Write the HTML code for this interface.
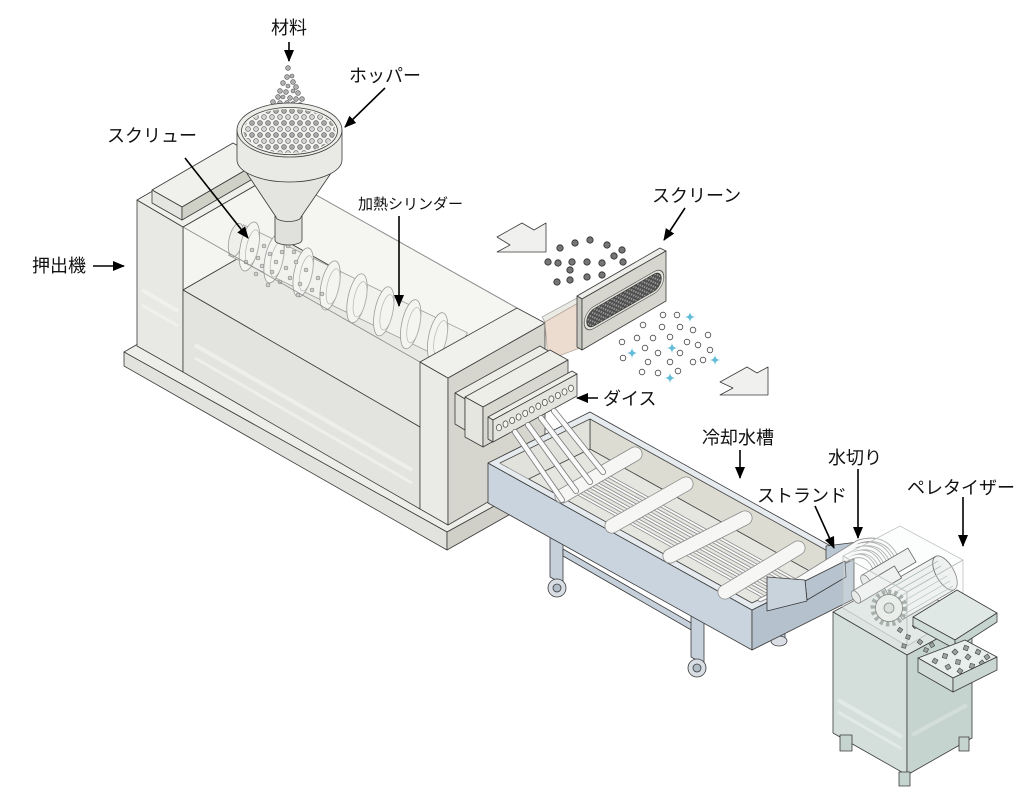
<!DOCTYPE html>
<html><head><meta charset="utf-8"><title>押出機</title>
<style>
html,body{margin:0;padding:0;background:#fff;width:1024px;height:788px;overflow:hidden}
svg{display:block}
.t{font-family:"Liberation Sans","Noto Sans CJK JP",sans-serif;font-size:18px;fill:#111}
</style></head><body>
<svg width="1024" height="788" viewBox="0 0 1024 788" xmlns="http://www.w3.org/2000/svg">
<defs>
<marker id="ah" markerWidth="12" markerHeight="10" refX="11" refY="5" orient="auto" markerUnits="userSpaceOnUse"><path d="M0,0 L12,5 L0,10 z" fill="#000"/></marker>
<pattern id="pel" width="8" height="12" patternUnits="userSpaceOnUse"><circle cx="4" cy="3" r="2.4" fill="#a8a8a8" stroke="#555" stroke-width="0.6"/><circle cx="0" cy="9" r="2.4" fill="#d4d4d4" stroke="#555" stroke-width="0.6"/><circle cx="8" cy="9" r="2.4" fill="#d4d4d4" stroke="#555" stroke-width="0.6"/></pattern>
<pattern id="mesh" width="5" height="4.4" patternUnits="userSpaceOnUse"><rect width="5" height="4.4" fill="#4e4e4e"/><circle cx="1.25" cy="1.1" r="1" fill="#a0a0a0"/><circle cx="3.75" cy="3.3" r="1" fill="#a0a0a0"/></pattern>
<clipPath id="tankOpen"><polygon points="500,463 590,419 842,559 752,603"/></clipPath>
</defs>

<g stroke="#3a3a3a" stroke-width="0.8" stroke-linejoin="round">
<!-- ===== EXTRUDER BASE ===== -->
<polygon points="124,352 228,292 560,470 447,532" fill="#ededea"/>
<polygon points="124,352 447,532 447,550 124,366" fill="#e2e2de"/>
<polygon points="447,532 560,470 560,486 447,550" fill="#d0d0c8"/>

<!-- chamber -->
<polygon points="183,227 277,173 277,236 183,290" fill="#f4f4f1"/>
<polygon points="277,173 517,308 517,371 277,236" fill="#f5f5f2"/>
<polygon points="183,290 277,236 517,371 420,427" fill="#e8e8e4"/>

<!-- screw -->
<g stroke="#9a9a9a">
<polygon points="243.4,224.7 467.4,332.7 452.6,363.3 228.6,255.3" fill="#f1f1ee"/>
<ellipse cx="236" cy="240" rx="7" ry="17" transform="rotate(12 236 240)" fill="#eeeeea"/>
<g fill="#f4f4f1">
<ellipse cx="249.4" cy="246.5" rx="9" ry="25" transform="rotate(12 249.4 246.5)"/>
<ellipse cx="274.1" cy="258.4" rx="9" ry="25" transform="rotate(12 274.1 258.4)"/>
<ellipse cx="303.2" cy="272.4" rx="9" ry="25" transform="rotate(12 303.2 272.4)"/>
<ellipse cx="330.1" cy="285.4" rx="9" ry="25" transform="rotate(12 330.1 285.4)"/>
<ellipse cx="357" cy="298.3" rx="9" ry="25" transform="rotate(12 357 298.3)"/>
<ellipse cx="383.8" cy="311.3" rx="9" ry="25" transform="rotate(12 383.8 311.3)"/>
<ellipse cx="410.7" cy="324.2" rx="9" ry="25" transform="rotate(12 410.7 324.2)"/>
<ellipse cx="437.6" cy="337.2" rx="9" ry="25" transform="rotate(12 437.6 337.2)"/>
</g>
<g fill="none" stroke="#b5b5b5" stroke-width="0.7">
<ellipse cx="252.4" cy="247.5" rx="6" ry="18" transform="rotate(12 252.4 247.5)"/>
<ellipse cx="277.1" cy="259.4" rx="6" ry="18" transform="rotate(12 277.1 259.4)"/>
<ellipse cx="306.2" cy="273.4" rx="6" ry="18" transform="rotate(12 306.2 273.4)"/>
<ellipse cx="333.1" cy="286.4" rx="6" ry="18" transform="rotate(12 333.1 286.4)"/>
<ellipse cx="360" cy="299.3" rx="6" ry="18" transform="rotate(12 360 299.3)"/>
<ellipse cx="386.8" cy="312.3" rx="6" ry="18" transform="rotate(12 386.8 312.3)"/>
<ellipse cx="413.7" cy="325.2" rx="6" ry="18" transform="rotate(12 413.7 325.2)"/>
<ellipse cx="440.6" cy="338.2" rx="6" ry="18" transform="rotate(12 440.6 338.2)"/>
</g>
</g>
<g fill="#cfcfcf" stroke="#777" stroke-width="0.5">
<circle cx="252" cy="250" r="2"/><circle cx="258" cy="258" r="2"/><circle cx="264" cy="246" r="2"/><circle cx="262" cy="266" r="2"/>
<circle cx="270" cy="254" r="2"/><circle cx="276" cy="262" r="2"/><circle cx="272" cy="272" r="2"/><circle cx="282" cy="252" r="2"/>
<circle cx="286" cy="268" r="2"/><circle cx="290" cy="278" r="2"/><circle cx="296" cy="262" r="2"/><circle cx="300" cy="284" r="2"/>
<circle cx="306" cy="270" r="2"/><circle cx="312" cy="290" r="2"/><circle cx="318" cy="278" r="2"/><circle cx="256" cy="274" r="2"/>
<circle cx="280" cy="282" r="2"/><circle cx="298" cy="295" r="2"/><circle cx="322" cy="294" r="2"/><circle cx="268" cy="285" r="2"/>
<circle cx="288" cy="246" r="2"/><circle cx="294" cy="252" r="2"/><circle cx="246" cy="262" r="2"/>
</g>
<!-- glass edges -->
<line x1="183" y1="227" x2="420" y2="362" stroke="#8a8a8a"/>
<line x1="277" y1="173" x2="517" y2="308" stroke="#9a9a9a"/>

<!-- tower + lower box -->
<polygon points="137,200 183,227 183,372 137,346" fill="#e8e8e4"/>
<polygon points="137,200 231,146 277,173 183,227" fill="#efefeb"/>
<polygon points="183,290 420,427 420,509 183,372" fill="#e3e3df"/>
<line x1="195" y1="345" x2="412" y2="470" stroke="#eeeeea" stroke-width="4"/>
<line x1="195" y1="358" x2="412" y2="483" stroke="#eeeeea" stroke-width="3"/>
<line x1="142" y1="290" x2="178" y2="311" stroke="#f0f0ec" stroke-width="4"/>
<line x1="142" y1="305" x2="178" y2="326" stroke="#f0f0ec" stroke-width="3"/>

<!-- end block -->
<polygon points="420,362 448,378 448,525 420,509" fill="#eaeae6"/>
<polygon points="448,378 545,323 545,469 448,525" fill="#d6d6ce"/>
<polygon points="420,362 517,308 545,323 448,378" fill="#f0f0ec"/>

<!-- pad on tower -->
<polygon points="152,190 233,143 263,160 182,207" fill="#f0f0ec"/>
<polygon points="152,190 182,207 182,220 152,203" fill="#e4e4e0"/>
<polygon points="182,207 263,160 263,173 182,220" fill="#cfd0c6"/>

<!-- connector + screen -->
<polygon points="542,317 577,298 580,302 545,322" fill="#ebebe6" stroke="#aaa"/>
<polygon points="545,322 580,302 580,348 548,360" fill="#ecdccf" stroke="#b9a99c"/>
<polygon points="577,296 660,248 666,251 582,299" fill="#ededE9"/>
<polygon points="577,296 582,299 582,350 577,347" fill="#c8c8c0"/>
<polygon points="582,299 666,251 666,301 582,350" fill="#d6d6ce"/>
<rect x="-46" y="-11" width="92" height="22" rx="11" transform="matrix(0.866,-0.5,0,1,624,300)" fill="#e2e2da" stroke="#555"/>
<rect x="-43" y="-8.5" width="86" height="17" rx="8.5" transform="matrix(0.866,-0.5,0,1,624,300)" fill="url(#mesh)" stroke="#333"/>

<!-- hopper -->
<g fill="#b0b0b0" stroke="#555" stroke-width="0.6">
<circle cx="288" cy="68" r="2.4"/><circle cx="287" cy="77" r="2.4"/><circle cx="292" cy="76" r="2"/><circle cx="283" cy="83" r="2.4"/>
<circle cx="293" cy="82" r="2.4"/><circle cx="288" cy="86" r="2"/><circle cx="296" cy="87" r="2.4"/><circle cx="280" cy="91" r="2.4"/>
<circle cx="286" cy="92" r="2.4"/><circle cx="293" cy="91" r="2"/><circle cx="298" cy="93" r="2.4"/><circle cx="278" cy="97" r="2.4"/>
<circle cx="283" cy="97" r="2"/><circle cx="290" cy="98" r="2.4"/><circle cx="296" cy="99" r="2.4"/><circle cx="302" cy="99" r="2.4"/>
<circle cx="273" cy="102" r="2.4"/><circle cx="280" cy="103" r="2.4"/><circle cx="287" cy="103" r="2.4"/><circle cx="293" cy="104" r="2.4"/>
<circle cx="300" cy="105" r="2.4"/><circle cx="305" cy="107" r="2.4"/>
</g>
<path d="M275,214 L275,240 A13.5,5 0 0 0 302,240 L302,214 Z" fill="#e0e0dc"/>
<path d="M238,160 L276,217 A12.5,4.5 0 0 0 301,217 L340,160 Z" fill="#e4e4e0"/>
<path d="M237,130 L237,160 A52.5,22 0 0 0 342,160 L342,130 Z" fill="#e9e9e5"/>
<ellipse cx="289.5" cy="130" rx="52.5" ry="27" fill="#ececE8"/>
<ellipse cx="289.5" cy="131" rx="48" ry="23.5" fill="#f3f3f0"/>
<ellipse cx="289.5" cy="131" rx="46" ry="22" fill="url(#pel)" stroke="none"/>

<!-- die -->
<polygon points="455,393 540,346 550,352 465,399" fill="#ededE8"/>
<polygon points="455,393 465,399 465,430 455,424" fill="#e0e0da"/>
<polygon points="465,397 550,350 568,360 483,407" fill="#eeeee9"/>
<polygon points="465,397 483,407 483,447 465,437" fill="#e6e6e0"/>
<polygon points="483,407 568,360 568,400 483,447" fill="#d8d8d0"/>
<polygon points="488,417 572,371 577,374 493,420" fill="#efefea"/>
<polygon points="488,417 493,420 493,442 488,439" fill="#dcdcd4"/>
<polygon points="493,420 577,374 577,396 493,442" fill="#e4e4de"/>
<g fill="#f4f4f0" stroke="#444" stroke-width="0.7">
<ellipse cx="499" cy="427.7" rx="2.5" ry="3.2"/><ellipse cx="505.5" cy="424.1" rx="2.5" ry="3.2"/><ellipse cx="512.1" cy="420.5" rx="2.5" ry="3.2"/>
<ellipse cx="518.6" cy="417" rx="2.5" ry="3.2"/><ellipse cx="525.2" cy="413.4" rx="2.5" ry="3.2"/><ellipse cx="531.7" cy="409.8" rx="2.5" ry="3.2"/>
<ellipse cx="538.3" cy="406.2" rx="2.5" ry="3.2"/><ellipse cx="544.8" cy="402.6" rx="2.5" ry="3.2"/><ellipse cx="551.4" cy="399.1" rx="2.5" ry="3.2"/>
<ellipse cx="557.9" cy="395.5" rx="2.5" ry="3.2"/><ellipse cx="564.5" cy="391.9" rx="2.5" ry="3.2"/><ellipse cx="571" cy="388.3" rx="2.5" ry="3.2"/>
</g>

<!-- chevron arrows -->
<polygon points="497,237 522,223 534,230 546,223 546,252 497,252 510,245" fill="#f0f0ee"/>
<polygon points="720,382 747,367 757,373 768,367 768,395 720,395 733,388" fill="#f0f0ee"/>
</g>

<!-- pellets before screen -->
<g fill="#757575" stroke="#2a2a2a" stroke-width="0.8">
<circle cx="560" cy="248" r="3.2"/><circle cx="575" cy="243" r="3.2"/><circle cx="590" cy="240" r="3.2"/><circle cx="607" cy="245" r="3.2"/>
<circle cx="622" cy="250" r="3.2"/><circle cx="548" cy="262" r="3.2"/><circle cx="558" cy="263" r="3.2"/><circle cx="572" cy="262" r="3.2"/>
<circle cx="587" cy="262" r="3.2"/><circle cx="602" cy="263" r="3.2"/><circle cx="623" cy="262" r="3.2"/><circle cx="570" cy="270" r="3.2"/>
<circle cx="587" cy="277" r="3.2"/><circle cx="602" cy="275" r="3.2"/><circle cx="557" cy="282" r="3.2"/><circle cx="570" cy="280" r="3.2"/>
<circle cx="614" cy="256" r="3.2"/>
</g>
<!-- pellets after screen -->
<g fill="#fff" stroke="#444" stroke-width="0.8">
<circle cx="663" cy="315" r="2.8"/><circle cx="677" cy="315" r="2.8"/><circle cx="643" cy="325" r="2.8"/><circle cx="662" cy="327" r="2.8"/>
<circle cx="680" cy="327" r="2.8"/><circle cx="693" cy="330" r="2.8"/><circle cx="708" cy="335" r="2.8"/><circle cx="637" cy="338" r="2.8"/>
<circle cx="653" cy="338" r="2.8"/><circle cx="670" cy="337" r="2.8"/><circle cx="687" cy="342" r="2.8"/><circle cx="698" cy="345" r="2.8"/>
<circle cx="710" cy="350" r="2.8"/><circle cx="622" cy="342" r="2.8"/><circle cx="645" cy="348" r="2.8"/><circle cx="658" cy="353" r="2.8"/>
<circle cx="680" cy="353" r="2.8"/><circle cx="693" cy="362" r="2.8"/><circle cx="703" cy="360" r="2.8"/><circle cx="623" cy="358" r="2.8"/>
<circle cx="648" cy="362" r="2.8"/><circle cx="670" cy="362" r="2.8"/><circle cx="642" cy="372" r="2.8"/><circle cx="658" cy="373" r="2.8"/>
<circle cx="678" cy="371" r="2.8"/>
</g>
<g fill="#63bcd8">
<path d="M690,311 Q690,317 696,317 Q690,317 690,323 Q690,317 684,317 Q690,317 690,311 Z"/>
<path d="M632,347 Q632,353 638,353 Q632,353 632,359 Q632,353 626,353 Q632,353 632,347 Z"/>
<path d="M672,342 Q672,348 678,348 Q672,348 672,354 Q672,348 666,348 Q672,348 672,342 Z"/>
<path d="M715,354 Q715,360 721,360 Q715,360 715,366 Q715,360 709,360 Q715,360 715,354 Z"/>
<path d="M670,372 Q670,378 676,378 Q670,378 670,384 Q670,378 664,378 Q670,378 670,372 Z"/>
</g>

<!-- ===== COOLING TANK ===== -->
<g stroke="#3a3a3a" stroke-width="0.8" stroke-linejoin="round">
<polygon points="774,628 785,628 785,640 774,640" fill="#c5d0da"/>
<ellipse cx="779" cy="641" rx="8" ry="5" fill="#d8dee4"/>
<polygon points="550,530 563,537 563,584 550,577" fill="#c5d0da"/>
<polygon points="563,549 693,624 693,631 563,556" fill="#c5d0da"/>
<polygon points="691,615 704,622 704,664 691,657" fill="#c5d0da"/>
<ellipse cx="557" cy="588" rx="9" ry="9" fill="#d8dee4"/>
<ellipse cx="557" cy="588" rx="4" ry="4" fill="#b0bcc6"/>
<ellipse cx="697" cy="668" rx="9" ry="9" fill="#d8dee4"/>
<ellipse cx="697" cy="668" rx="4" ry="4" fill="#b0bcc6"/>
<polygon points="488,463 752,610 752,650 488,503" fill="#cad4de"/>
<polygon points="752,610 854,559 854,599 752,650" fill="#b5c2ce"/>
<polygon points="488,463 590,412 854,559 752,610" fill="#e6ebef"/>
<polygon points="500,463 590,419 842,559 752,603" fill="#e6e6e0"/>
<g clip-path="url(#tankOpen)">
<polygon points="590,419 842,559 842,589 590,449" fill="#dcdcd3"/>
<polygon points="500,463 590,419 590,449 500,493" fill="#e1e2dc"/>
<g stroke="#8a8a8a" stroke-width="3.4" stroke-linecap="round">
<line x1="575" y1="492" x2="775" y2="603"/><line x1="581" y1="488.5" x2="781" y2="599.5"/>
<line x1="587" y1="485" x2="787" y2="596"/><line x1="593" y1="481.5" x2="793" y2="592.5"/>
<line x1="599" y1="478" x2="799" y2="589"/><line x1="605" y1="474.5" x2="805" y2="585.5"/>
</g>
<g stroke="#fbfbfb" stroke-width="1.8" stroke-linecap="round">
<line x1="575" y1="492" x2="775" y2="603"/><line x1="581" y1="488.5" x2="781" y2="599.5"/>
<line x1="587" y1="485" x2="787" y2="596"/><line x1="593" y1="481.5" x2="793" y2="592.5"/>
<line x1="599" y1="478" x2="799" y2="589"/><line x1="605" y1="474.5" x2="805" y2="585.5"/>
</g>
</g>
<g stroke-linecap="round">
<g stroke="#8c8c8c" stroke-width="15">
<line x1="562" y1="496" x2="635" y2="454"/><line x1="612" y1="526" x2="686" y2="484"/>
<line x1="670" y1="556" x2="745" y2="518"/><line x1="725" y1="592" x2="798" y2="548"/>
</g>
<g stroke="#f6f6f4" stroke-width="13.4">
<line x1="562" y1="496" x2="635" y2="454"/><line x1="612" y1="526" x2="686" y2="484"/>
<line x1="670" y1="556" x2="745" y2="518"/><line x1="725" y1="592" x2="798" y2="548"/>
</g>
</g>
<g stroke-linecap="round">
<g stroke="#7a7a7a" stroke-width="6">
<line x1="515" y1="432" x2="562" y2="500"/><line x1="528" y1="425" x2="576" y2="491"/>
<line x1="541" y1="418" x2="590" y2="482"/><line x1="554" y1="411" x2="603" y2="472"/>
</g>
<g stroke="#fafafa" stroke-width="4.4">
<line x1="515" y1="432" x2="562" y2="500"/><line x1="528" y1="425" x2="576" y2="491"/>
<line x1="541" y1="418" x2="590" y2="482"/><line x1="554" y1="411" x2="603" y2="472"/>
</g>
</g>
<polygon points="826,546 866,541 866,553 826,561" fill="#b9c7d3"/>
<g fill="none" stroke-linecap="round">
<g stroke="#8a8a8a" stroke-width="4.4">
<path d="M760,600 L850,558 Q868,550 876,572"/><path d="M766,597 L852,554 Q872,546 881,568"/>
<path d="M772,594 L854,550 Q876,542 886,564"/><path d="M778,591 L856,546 Q880,538 891,560"/>
<path d="M784,588 L858,542 Q884,534 896,556"/>
</g>
<g stroke="#fafafa" stroke-width="2.6">
<path d="M760,600 L850,558 Q868,550 876,572"/><path d="M766,597 L852,554 Q872,546 881,568"/>
<path d="M772,594 L854,550 Q876,542 886,564"/><path d="M778,591 L856,546 Q880,538 891,560"/>
<path d="M784,588 L858,542 Q884,534 896,556"/>
</g>
</g>
<polygon points="805,581 845,561 846,577 807,600" fill="#b7c4cf"/>
<polygon points="767,577 805,580 807,601 767,611" fill="#c9d3dc"/>

<!-- ===== PELLETIZER ===== -->
<polygon points="833,612 898,577 972,620 907,655" fill="#dde5e2"/>
<polygon points="833,612 907,655 907,775 833,733" fill="#d4dfdb"/>
<polygon points="907,655 972,620 972,738 907,775" fill="#c6d4cf"/>
<line x1="838" y1="700" x2="902" y2="737" stroke="#e2eae7" stroke-width="4"/>
<line x1="838" y1="712" x2="902" y2="749" stroke="#e2eae7" stroke-width="3"/>
<line x1="912" y1="735" x2="967" y2="705" stroke="#d3dedb" stroke-width="4"/>
<polygon points="840,735 852,735 852,751 840,751" fill="#c6d4cf"/>
<polygon points="899,772 910,772 910,786 899,786" fill="#c6d4cf"/>
<polygon points="959,737 969,737 969,751 959,751" fill="#c6d4cf"/>
<polygon points="843,556 900,526 963,560 907,592" fill="#f7f9f8" fill-opacity="0.35" stroke="#c0c6c4"/>
<g stroke="#666">
<polygon points="883.5,586.5 935.5,556.5 954.5,589.5 902.5,619.5" fill="#eef1f0"/>
<ellipse cx="945" cy="573" rx="9" ry="19" transform="rotate(-30 945 573)" fill="#eef1f0"/>
<g stroke="#9aa" stroke-width="0.7">
<line x1="886" y1="591" x2="938" y2="561"/><line x1="889" y1="596" x2="941" y2="566"/>
<line x1="892" y1="601" x2="944" y2="571"/><line x1="895" y1="606" x2="947" y2="576"/>
<line x1="898" y1="611" x2="950" y2="581"/><line x1="901" y1="616" x2="953" y2="586"/>
</g>
<polygon points="861.9,575.1 907.9,548.1 916.1,561.9 870.1,588.9" fill="#eef1f0"/>
<ellipse cx="866" cy="582" rx="4" ry="8" transform="rotate(-30.4 866 582)" fill="#e3e8e6"/>
<polygon points="852.4,591 894.4,566 901.6,578 859.6,603" fill="#eef1f0"/>
<ellipse cx="856" cy="597" rx="3.5" ry="7" transform="rotate(-30.8 856 597)" fill="#e3e8e6"/>
<circle cx="889" cy="608" r="16" fill="none" stroke="#8f9996" stroke-width="5" stroke-dasharray="3.2 3"/>
<circle cx="889" cy="608" r="13.5" fill="#e6ebe9"/>
<circle cx="889" cy="608" r="5" fill="#d0d8d5"/>
</g>
<polygon points="843,556 907,592 907,646 843,608" fill="#f3f6f5" fill-opacity="0.25" stroke="#b9c0be"/>
<polygon points="907,592 963,560 963,613 907,646" fill="#f3f6f5" fill-opacity="0.25" stroke="#b9c0be"/>
<g fill="#9aa3a0" stroke="#444" stroke-width="0.6">
<rect x="-2" y="-2" width="4" height="4" transform="translate(900,630) rotate(35)"/>
<rect x="-2" y="-2" width="4" height="4" transform="translate(908,637) rotate(20)"/>
<rect x="-2" y="-2" width="4" height="4" transform="translate(915,626) rotate(50)"/>
<rect x="-2" y="-2" width="4" height="4" transform="translate(904,646) rotate(10)"/>
<rect x="-2" y="-2" width="4" height="4" transform="translate(920,642) rotate(40)"/>
<rect x="-2" y="-2" width="4" height="4" transform="translate(926,650) rotate(25)"/>
<rect x="-2" y="-2" width="4" height="4" transform="translate(932,645) rotate(60)"/>
</g>
<polygon points="913,617 957,590 997,613 955,640" fill="#e0e8e5"/>
<polygon points="913,617 955,640 955,649 913,626" fill="#cfdcd8"/>
<polygon points="955,640 997,613 997,622 955,649" fill="#c6d4cf"/>
<polygon points="918,658 965,640 997,657 953,678" fill="#e8eeec"/>
<g fill="#9aa3a0" stroke="#444" stroke-width="0.6">
<rect x="-2.2" y="-2.2" width="4.4" height="4.4" transform="translate(935,661) rotate(30)"/>
<rect x="-2.2" y="-2.2" width="4.4" height="4.4" transform="translate(945,656) rotate(15)"/>
<rect x="-2.2" y="-2.2" width="4.4" height="4.4" transform="translate(955,652) rotate(45)"/>
<rect x="-2.2" y="-2.2" width="4.4" height="4.4" transform="translate(966,648) rotate(20)"/>
<rect x="-2.2" y="-2.2" width="4.4" height="4.4" transform="translate(948,667) rotate(60)"/>
<rect x="-2.2" y="-2.2" width="4.4" height="4.4" transform="translate(958,662) rotate(10)"/>
<rect x="-2.2" y="-2.2" width="4.4" height="4.4" transform="translate(968,657) rotate(40)"/>
<rect x="-2.2" y="-2.2" width="4.4" height="4.4" transform="translate(978,652) rotate(25)"/>
<rect x="-2.2" y="-2.2" width="4.4" height="4.4" transform="translate(987,657) rotate(55)"/>
<rect x="-2.2" y="-2.2" width="4.4" height="4.4" transform="translate(960,671) rotate(35)"/>
<rect x="-2.2" y="-2.2" width="4.4" height="4.4" transform="translate(972,666) rotate(15)"/>
<rect x="-2.2" y="-2.2" width="4.4" height="4.4" transform="translate(982,663) rotate(50)"/>
</g>
<polygon points="918,658 953,678 953,692 918,672" fill="#d2ddd9"/>
<polygon points="953,678 997,657 997,670 953,692" fill="#c9d6d1"/>
</g>

<!-- ===== LABELS ===== -->
<g stroke="#000" stroke-width="1.6" fill="none">
<line x1="289" y1="42" x2="289" y2="61" marker-end="url(#ah)"/>
<line x1="385" y1="88" x2="345" y2="127" marker-end="url(#ah)"/>
<line x1="185" y1="158" x2="248" y2="238" marker-end="url(#ah)"/>
<line x1="399" y1="216" x2="399" y2="306" marker-end="url(#ah)"/>
<line x1="93" y1="266" x2="124" y2="266" marker-end="url(#ah)"/>
<line x1="685" y1="208" x2="664" y2="240" marker-end="url(#ah)"/>
<line x1="598" y1="398" x2="577" y2="398" marker-end="url(#ah)"/>
<line x1="740" y1="450" x2="740" y2="478" marker-end="url(#ah)"/>
<line x1="858" y1="469" x2="858" y2="538" marker-end="url(#ah)"/>
<line x1="815" y1="506" x2="834" y2="548" marker-end="url(#ah)"/>
<line x1="963" y1="497" x2="963" y2="546" marker-end="url(#ah)"/>
</g>
<text class="t" x="271" y="34">材料</text>
<text class="t" x="349" y="82">ホッパー</text>
<text class="t" x="107" y="142">スクリュー</text>
<text class="t" x="358" y="209" style="font-size:15px">加熱シリンダー</text>
<text class="t" x="32" y="272">押出機</text>
<text class="t" x="652" y="202">スクリーン</text>
<text class="t" x="603" y="405">ダイス</text>
<text class="t" x="702" y="444">冷却水槽</text>
<text class="t" x="828" y="464">水切り</text>
<text class="t" x="757" y="502">ストランド</text>
<text class="t" x="907" y="494">ペレタイザー</text>
</svg>
</body></html>
